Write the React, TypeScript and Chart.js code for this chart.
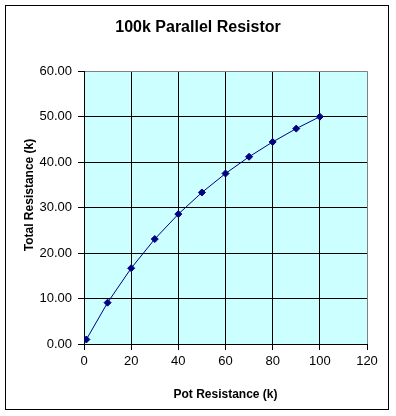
import React, { useEffect, useRef } from "react";
import { Chart, registerables } from "chart.js";

Chart.register(...registerables);

const potResistance: number[] = [1, 10, 20, 30, 40, 50, 60, 70, 80, 90, 100];
const totalResistance: number[] = [0.99, 9.09, 16.67, 23.08, 28.57, 33.33, 37.5, 41.18, 44.44, 47.37, 50.0];
const chartTitle = "100k Parallel Resistor";
const xTitle = "Pot Resistance (k)";
const yTitle = "Total Resistance (k)";

const FONT = "'Liberation Sans', Arial, sans-serif";

const framePlugin = {
  id: "frame",
  beforeDraw(chart: any) {
    const { ctx, chartArea } = chart;
    ctx.save();
    ctx.fillStyle = "#ffffff";
    ctx.fillRect(0, 0, chart.width, chart.height);
    ctx.strokeStyle = "#000000";
    ctx.lineWidth = 1;
    ctx.strokeRect(5.5, 5.5, 383, 404);
    ctx.fillStyle = "#CCFFFF";
    ctx.fillRect(chartArea.left, chartArea.top, chartArea.right - chartArea.left, chartArea.bottom - chartArea.top);
    ctx.restore();
  },
  afterDraw(chart: any) {
    const { ctx } = chart;
    ctx.save();
    ctx.translate(30, 195);
    ctx.rotate(-Math.PI / 2);
    ctx.font = `bold 12px ${FONT}`;
    ctx.fillStyle = "#000000";
    ctx.textAlign = "center";
    ctx.textBaseline = "middle";
    ctx.fillText(yTitle, 0, 0);
    ctx.restore();
  },
};

export default function App() {
  const ref = useRef<HTMLCanvasElement>(null);
  useEffect(() => {
    if (!ref.current) return;
    const chart = new Chart(ref.current, {
      type: "scatter",
      data: {
        datasets: [
          {
            data: potResistance.map((x, i) => ({ x, y: totalResistance[i] })),
            showLine: true,
            borderColor: "#000080",
            borderWidth: 1,
            backgroundColor: "#000080",
            pointBackgroundColor: "#000080",
            pointBorderColor: "#000080",
            pointStyle: "rectRot",
            pointRadius: 3.5,
            tension: 0,
          },
        ],
      },
      options: {
        responsive: false,
        animation: false,
        layout: { padding: 0 },
        plugins: {
          legend: { display: false },
          tooltip: { enabled: false },
          title: {
            display: true,
            text: chartTitle,
            color: "#000000",
            font: { family: FONT, size: 16, weight: "bold" },
            padding: { top: 18, bottom: 34 },
          },
        },
        scales: {
          x: {
            type: "linear",
            min: 0,
            max: 120,
            afterFit(scale: any) {
              scale.height = 72;
            },
            ticks: {
              stepSize: 20,
              color: "#000000",
              padding: 4,
              font: { family: FONT, size: 13 },
            },
            grid: {
              color: (c: any) => (c.tick && c.tick.value === 120 ? "#808080" : "#000000"),
              tickColor: "#000000",
              tickLength: 6,
              lineWidth: 1,
            },
            border: { color: "#000000", width: 1 },
            title: {
              display: true,
              text: xTitle,
              color: "#000000",
              font: { family: FONT, size: 12, weight: "bold" },
              padding: { top: 0, bottom: 14 },
            },
          },
          y: {
            type: "linear",
            min: 0,
            max: 60,
            afterFit(scale: any) {
              scale.width = 84;
            },
            ticks: {
              stepSize: 10,
              color: "#000000",
              padding: 6,
              font: { family: FONT, size: 13 },
              callback: (v: any) => Number(v).toFixed(2),
            },
            grid: {
              color: (c: any) => (c.tick && c.tick.value === 60 ? "#808080" : "#000000"),
              tickColor: "#000000",
              tickLength: 6,
              lineWidth: 1,
            },
            border: { color: "#000000", width: 1 },
          },
          spacer: {
            type: "linear",
            position: "right",
            display: true,
            min: 0,
            max: 60,
            afterFit(scale: any) {
              scale.width = 29;
            },
            ticks: { display: false },
            grid: { display: false, drawOnChartArea: false, drawTicks: false },
            border: { display: false },
          },
        },
      },
      plugins: [framePlugin],
    } as any);
    return () => chart.destroy();
  }, []);

  return (
    <div style={{ position: "fixed", left: 0, top: 0, width: 396, height: 416 }}>
      <canvas ref={ref} width={396} height={416} />
    </div>
  );
}
